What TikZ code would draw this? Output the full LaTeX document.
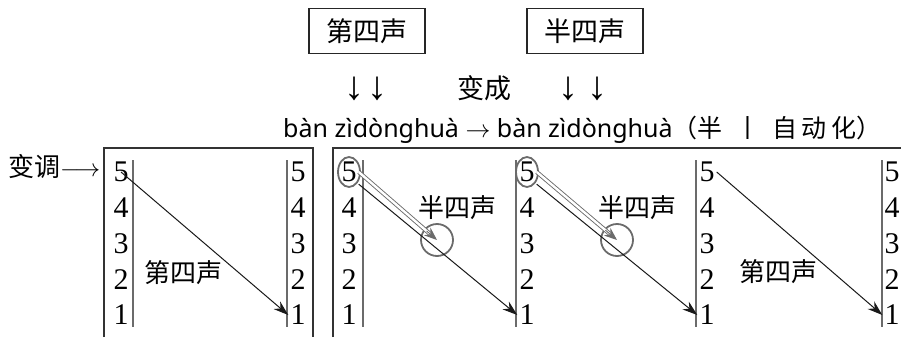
\documentclass[tikz,border=0pt]{standalone}
\usepackage{fontspec}
\setmainfont{Liberation Serif}
\newfontfamily\cjk{Noto Sans CJK SC}
\newfontfamily\pinyin{Noto Sans}
\usetikzlibrary{arrows.meta}
\definecolor{rejilla}{gray}{0.42}
\tikzset{
  digit/.style={inner sep=2pt,font=\fontsize{30}{30}\selectfont},
  hanzi/.style={inner sep=0pt,font=\cjk\fontsize{26}{26}\selectfont},
  tonebox/.style={draw=black!85,line width=1.4pt,minimum width=116pt,minimum height=45pt,inner sep=0pt,font=\cjk\fontsize{27}{27}\selectfont},
  downsym/.style={inner sep=0pt,font=\fontsize{40}{40}\selectfont},
  frame/.style={draw=black!80,line width=1.5pt},
  bar/.style={draw=rejilla,line width=1.6pt},
  ring/.style={draw=rejilla,line width=1.8pt},
  fall/.style={-{Stealth[length=15pt,width=10pt]},line width=1pt,black!90},
  half/.style={draw=rejilla,double=white,double distance=2.4pt,line width=0.9pt,shorten >=10pt},
  halftip/.style={-{Stealth[length=13pt,width=10pt]},draw=rejilla,line width=0.9pt,shorten <=90pt},
}
\begin{document}
\begin{tikzpicture}[x=1pt,y=-1pt]
    \useasboundingbox (0,0) rectangle (901,337);
    % Cajas de tono
    \node[tonebox] (cuarto) at (367,31) {第四声};
    \node[tonebox] (medio) at (585,31) {半四声};
    % Flechas hacia abajo
    \node[downsym] (da1) at (354,89) {↓};
    \node[downsym] (da2) at (377,89) {↓};
    \node[downsym] (da3) at (568,89) {↓};
    \node[downsym] (da4) at (597,89) {↓};
    \node[hanzi,font=\cjk\fontsize{27}{27}\selectfont] (biancheng) at (484,88) {变成};
    % Linea de pinyin
    \node[anchor=west,inner sep=0pt,font=\pinyin\fontsize{25}{25}\selectfont] (linea) at (283,130)
      {bàn zìdònghuà $\rightarrow$ bàn zìdònghuà{\cjk（半\enspace 丨\enspace 自\,动\,化）}};
    % Cambio de tono
    \node[hanzi,anchor=west] (biandiao) at (8,167) {变调$\longrightarrow$};
    % Marcos
    \draw[frame] (104,337) |- (313,148) -- (313,337);
    \draw[frame] (333,337) |- (901,148);
    % Columnas de tono
    \foreach \col/\x/\lx in {a/121/133, b/298/287, c/349/363, d/527/516, e/707/696, f/892/882} {
      \draw[bar] (\lx,160) -- (\lx,327);
      \foreach \n in {5,...,1}
        \node[digit] (\col\n) at (\x,{172+(5-\n)*35.75}) {\n};
    }
    % Anillos
    \draw[ring] (c5.center) ellipse (11 and 15);
    \draw[ring] (d5.center) ellipse (11 and 15);
    \node[ring,circle,minimum size=32pt,inner sep=0pt] (h1) at (437,240) {};
    \node[ring,circle,minimum size=32pt,inner sep=0pt] (h2) at (617,240) {};
    % Flechas de tono
    \draw[fall] (a5.center) -- (b1.west);
    \draw[fall] (c5.south east) -- (d1.west);
    \draw[half] (c5.east) -- (h1.center);
    \draw[halftip] (c5.east) -- (h1.center);
    \draw[fall] (d5.south east) -- (e1.west);
    \draw[half] (d5.east) -- (h2.center);
    \draw[halftip] (d5.east) -- (h2.center);
    \draw[fall] (e5.east) -- (f1.west);
    % Nombres de tono
    \node[hanzi] (t1) at (183,273) {第四声};
    \node[hanzi] (t2) at (457,208) {半四声};
    \node[hanzi] (t3) at (637,208) {半四声};
    \node[hanzi] (t4) at (778,272) {第四声};
\end{tikzpicture}
\end{document}
